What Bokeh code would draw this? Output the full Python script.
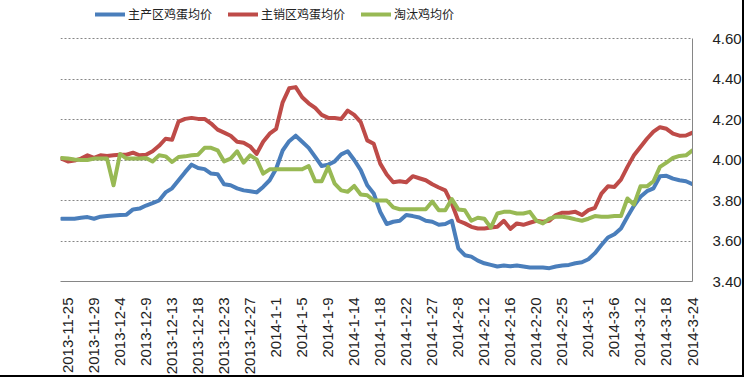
from bokeh.plotting import figure
from bokeh.models import Range1d, FixedTicker, Legend, LegendItem, NumeralTickFormatter, LinearAxis
from bokeh.embed import file_html
from bokeh.resources import INLINE

tick_labels = ["2013-11-25", "2013-11-29", "2013-12-4", "2013-12-9", "2013-12-13",
               "2013-12-18", "2013-12-23", "2013-12-27", "2014-1-1", "2014-1-5",
               "2014-1-9", "2014-1-14", "2014-1-18", "2014-1-22", "2014-1-27",
               "2014-2-8", "2014-2-12", "2014-2-16", "2014-2-20", "2014-2-25",
               "2014-3-1", "2014-3-6", "2014-3-12", "2014-3-18", "2014-3-24"]

series_names = ["主产区鸡蛋均价", "主销区鸡蛋均价", "淘汰鸡均价"]

main_prod = [3.71, 3.71, 3.71, 3.715, 3.718, 3.71, 3.72, 3.723, 3.726, 3.728,
             3.73, 3.756, 3.76, 3.775, 3.787, 3.80, 3.84, 3.86, 3.90, 3.94,
             3.977, 3.96, 3.955, 3.933, 3.93, 3.88, 3.875, 3.86, 3.85, 3.846,
             3.84, 3.867, 3.90, 3.957, 4.047, 4.093, 4.12, 4.09, 4.06, 4.015,
             3.97, 3.977, 3.993, 4.028, 4.043, 4.00, 3.95, 3.875, 3.835, 3.744,
             3.684, 3.695, 3.70, 3.728, 3.723, 3.716, 3.70, 3.695, 3.68, 3.684,
             3.70, 3.564, 3.53, 3.523, 3.503, 3.49, 3.482, 3.474, 3.479, 3.475,
             3.479, 3.474, 3.469, 3.469, 3.469, 3.466, 3.474, 3.479, 3.482, 3.49,
             3.495, 3.51, 3.54, 3.58, 3.617, 3.633, 3.662, 3.72, 3.774, 3.818,
             3.846, 3.86, 3.92, 3.922, 3.908, 3.90, 3.895, 3.88]

main_sales = [4.007, 3.993, 3.997, 4.007, 4.023, 4.01, 4.023, 4.02, 4.023, 4.026,
              4.026, 4.036, 4.023, 4.026, 4.043, 4.07, 4.105, 4.10, 4.19, 4.203,
              4.208, 4.203, 4.203, 4.18, 4.15, 4.135, 4.12, 4.09, 4.085, 4.067,
              4.03, 4.09, 4.13, 4.154, 4.285, 4.354, 4.36, 4.31, 4.28, 4.257,
              4.223, 4.208, 4.207, 4.203, 4.244, 4.223, 4.187, 4.097, 4.08, 3.982,
              3.928, 3.89, 3.895, 3.89, 3.92, 3.91, 3.90, 3.88, 3.864, 3.85,
              3.785, 3.70, 3.687, 3.67, 3.662, 3.662, 3.667, 3.67, 3.70, 3.66,
              3.687, 3.68, 3.69, 3.70, 3.695, 3.70, 3.728, 3.74, 3.74, 3.744,
              3.728, 3.752, 3.764, 3.834, 3.87, 3.867, 3.903, 3.966, 4.023, 4.064,
              4.105, 4.14, 4.162, 4.154, 4.13, 4.12, 4.121, 4.135]

culled = [4.01, 4.007, 4.003, 4.0, 4.0, 4.007, 4.007, 4.007, 3.875, 4.03,
          4.007, 4.007, 4.007, 4.01, 3.993, 4.023, 4.018, 3.99, 4.015, 4.018,
          4.023, 4.026, 4.06, 4.06, 4.048, 3.993, 4.007, 4.043, 3.987, 4.023,
          4.003, 3.933, 3.954, 3.954, 3.954, 3.954, 3.954, 3.954, 3.97, 3.895,
          3.895, 3.966, 3.883, 3.85, 3.843, 3.872, 3.83, 3.826, 3.80, 3.80,
          3.80, 3.766, 3.757, 3.757, 3.757, 3.757, 3.757, 3.795, 3.752, 3.752,
          3.807, 3.756, 3.752, 3.70, 3.715, 3.71, 3.666, 3.736, 3.744, 3.744,
          3.736, 3.736, 3.744, 3.70, 3.687, 3.71, 3.72, 3.72, 3.715, 3.707,
          3.70, 3.71, 3.723, 3.72, 3.72, 3.723, 3.723, 3.81, 3.78, 3.87,
          3.87, 3.895, 3.966, 3.987, 4.01, 4.02, 4.023, 4.048]

y_ticks = [3.40, 3.60, 3.80, 4.00, 4.20, 4.40, 4.60]

colors = ["#4A7EBB", "#BE4B48", "#98B954"]
n = len(main_prod)
x = list(range(n))
label_step = 4
tick_pos = [1 + label_step * k for k in range(len(tick_labels))]

y_lo, y_hi = y_ticks[0], y_ticks[-1]
# frame extends above the top gridline to leave room for the legend
y_top = y_hi + 38 * (y_hi - y_lo) / 243.0

p = figure(width=744, height=377, output_backend="svg", toolbar_location=None,
           x_range=Range1d(-0.15, n - 1), y_range=Range1d(y_lo, y_top),
           min_border_left=60, min_border_right=52, min_border_top=0, min_border_bottom=96)
p.yaxis.visible = False
p.styles = {"border-right": "2px solid black", "border-bottom": "2px solid black"}

renderers = []
for ys, c in zip([main_prod, main_sales, culled], colors):
    r = p.line(x, ys, line_color=c, line_width=4, line_join="round", line_cap="round")
    renderers.append(r)

p.outline_line_color = None
p.background_fill_color = "white"
p.border_fill_color = "white"

p.xgrid.visible = False
p.ygrid.ticker = FixedTicker(ticks=y_ticks[1:])
p.ygrid.grid_line_color = "#868686"
p.ygrid.grid_line_dash = "2 2"
p.ygrid.grid_line_width = 1

yax = LinearAxis()
p.add_layout(yax, "right")
yax.ticker = FixedTicker(ticks=y_ticks)
yax.bounds = (y_lo, y_hi)
yax.formatter = NumeralTickFormatter(format="0.00")
yax.axis_line_color = "#868686"
yax.major_tick_line_color = None
yax.minor_tick_line_color = None
yax.major_label_standoff = 14
yax.major_label_text_font = "Liberation Sans"
yax.major_label_text_font_size = "15px"
yax.major_label_text_color = "#222222"

xax = p.xaxis[0]
xax.ticker = FixedTicker(ticks=tick_pos)
xax.major_label_overrides = {pos: lab for pos, lab in zip(tick_pos, tick_labels)}
xax.major_label_orientation = 3.14159265 / 2
xax.axis_line_color = "#868686"
xax.major_tick_line_color = None
xax.minor_tick_line_color = None
xax.major_label_standoff = 10
xax.major_label_text_font = "Liberation Sans"
xax.major_label_text_font_size = "15px"
xax.major_label_text_color = "#222222"

items = [LegendItem(label=nm, renderers=[r]) for nm, r in zip(series_names, renderers)]
legend = Legend(items=items, orientation="horizontal", location=(35, 259),
                glyph_width=30, glyph_height=14, label_height=14, label_standoff=3,
                spacing=16, padding=0, margin=0,
                label_text_font="Noto Sans CJK SC", label_text_font_size="12px",
                label_text_color="#222222", border_line_color=None,
                background_fill_alpha=0)
p.add_layout(legend, "center")

open("out.html", "w").write(file_html(p, INLINE))
